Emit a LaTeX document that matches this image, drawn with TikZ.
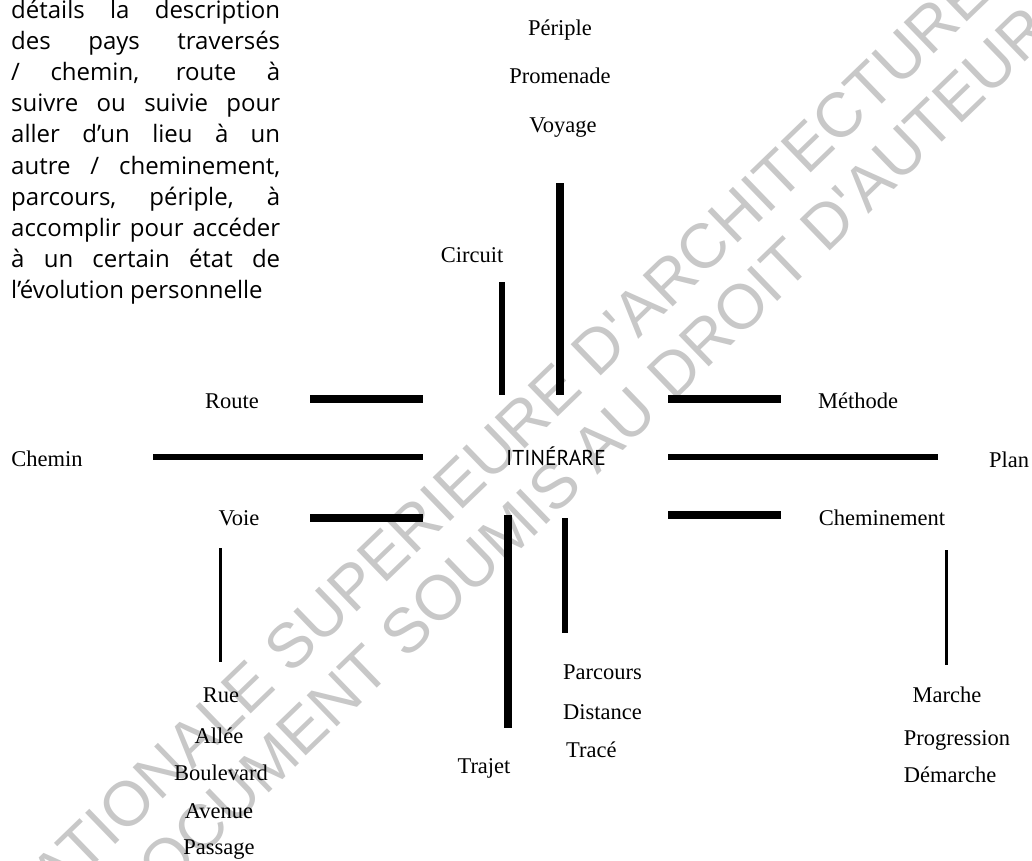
\documentclass[tikz,border=0pt]{standalone}
\usepackage{fontspec}
\setmainfont{Liberation Serif}
\newfontfamily\parafont{Open Sans}
\newfontfamily\itinfont{PT Sans}
\newfontfamily\wmfont{Liberation Sans}
\definecolor{wmgray}{RGB}{200,200,200}
\tikzset{
  lbl/.style={font=\fontsize{22.5}{27}\selectfont, inner sep=0pt, anchor=base},
  lblw/.style={lbl, anchor=base west},
  para/.style={font=\parafont\fontsize{24}{31}\selectfont, inner sep=0pt, anchor=base west},
  center/.style={font=\itinfont\fontsize{21.5}{24}\selectfont, inner sep=0pt, anchor=base},
  bar/.style={line width=8pt},
  midbar/.style={line width=5.5pt},
  slimbar/.style={line width=3pt},
  wm/.style={font=\wmfont\fontsize{63}{70}\selectfont, text=wmgray, rotate=44, inner sep=0pt}
}
\begin{document}
\begin{tikzpicture}[x=1pt,y=-1pt]
\useasboundingbox (0,0) rectangle (1032,860);
% watermark
\node[wm] (wm1) at (494,449) {NATIONALE SUPERIEURE D'ARCHITECTURE};
\node[wm] (wm2) at (578,464) {DOCUMENT SOUMIS AU DROIT D'AUTEUR};
% paragraph
\node[para] (p1)  at (11,18)    {\makebox[269pt][s]{détails la description}};
\node[para] (p2)  at (11,49.2)  {\makebox[269pt][s]{des pays traversés}};
\node[para] (p3)  at (11,80.4)  {\makebox[269pt][s]{/ chemin, route à}};
\node[para] (p4)  at (11,111.6) {\makebox[269pt][s]{suivre ou suivie pour}};
\node[para] (p5)  at (11,142.8) {\makebox[269pt][s]{aller d’un lieu à un}};
\node[para] (p6)  at (11,174)   {\makebox[269pt][s]{autre / cheminement,}};
\node[para] (p7)  at (11,205.2) {\makebox[269pt][s]{parcours, périple, à}};
\node[para] (p8)  at (11,236.4) {\makebox[269pt][s]{accomplir pour accéder}};
\node[para] (p9)  at (11,267.6) {\makebox[269pt][s]{à un certain état de}};
\node[para] (p10) at (11,298.8) {l’évolution personnelle};
% centre
\node[center] (itin) at (556,465) {ITINÉRARE};
% top
\node[lbl] (periple) at (560,35) {Périple};
\node[lbl] (promenade) at (560,83) {Promenade};
\node[lbl] (voyage) at (563,132) {Voyage};
\node[lbl] (circuit) at (472,262) {Circuit};
% left
\node[lbl] (route) at (232,408) {Route};
\node[lbl] (chemin) at (47,466) {Chemin};
\node[lbl] (voie) at (239,525) {Voie};
\node[lbl] (rue) at (221,702) {Rue};
\node[lbl] (allee) at (219,743) {Allée};
\node[lbl] (boulevard) at (221,780) {Boulevard};
\node[lbl] (avenue) at (219,818) {Avenue};
\node[lbl] (passage) at (219,854) {Passage};
% bottom
\node[lbl] (trajet) at (484,773) {Trajet};
\node[lblw] (parcours) at (563,679) {Parcours};
\node[lblw] (distance) at (563,719) {Distance};
\node[lblw] (trace) at (566,757) {Tracé};
% right
\node[lbl] (methode) at (858,408) {Méthode};
\node[lbl] (plan) at (1009,467) {Plan};
\node[lbl] (chemt) at (882,525) {Cheminement};
\node[lbl] (marche) at (947,702) {Marche};
\node[lbl] (progression) at (957,745) {Progression};
\node[lbl] (demarche) at (950,782) {Démarche};
% bars
\draw[bar] (560,183) -- (560,395);
\draw[midbar] (502,282) -- (502,395);
\draw[bar] (310,399) -- (423,399);
\draw[midbar] (153,457) -- (423,457);
\draw[bar] (310,518) -- (423,518);
\draw[slimbar] (220,548) -- (220,662);
\draw[bar] (508,515) -- (508,728);
\draw[midbar] (565,518) -- (565,633);
\draw[bar] (668,399) -- (781,399);
\draw[midbar] (668,457) -- (938,457);
\draw[bar] (668,515) -- (781,515);
\draw[slimbar] (946,550) -- (946,665);
\end{tikzpicture}
\end{document}
